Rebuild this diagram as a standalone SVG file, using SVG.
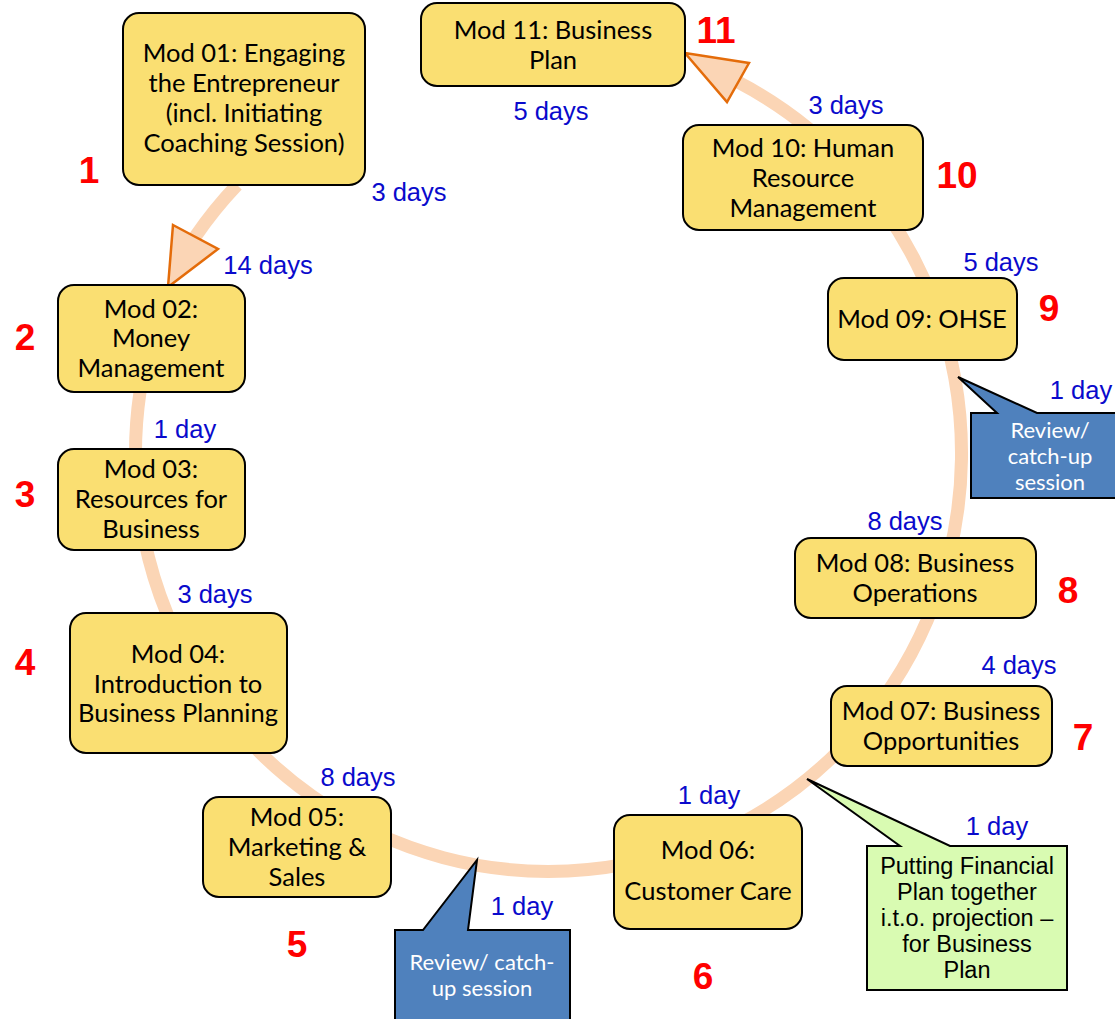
<svg xmlns="http://www.w3.org/2000/svg" width="1115" height="1019" viewBox="0 0 1115 1019">
<style>
.ring{fill:none;stroke:#FBD5B5;stroke-width:13}
.head{fill:#FBD5B5;stroke:#E46C0A;stroke-width:2.5;stroke-linejoin:miter}
.box{fill:#FADF72;stroke:#000;stroke-width:2}
.t{font-family:Lato,"Open Sans",sans-serif;font-size:25.5px;fill:#000;text-anchor:middle}
.num{font-family:"Liberation Sans",Arial,sans-serif;font-weight:bold;font-size:37px;fill:#FF0000;text-anchor:middle}
.d{font-family:"Liberation Sans",Arial,sans-serif;font-size:25.5px;fill:#0A0ACC;text-anchor:middle}
.blue{fill:#4F81BD;stroke:#000;stroke-width:2}
.green{fill:#D9FBB2;stroke:#000;stroke-width:2}
.wt{font-family:Lato,"Open Sans",sans-serif;font-size:22px;fill:#fff;text-anchor:middle}
.gt{font-family:"Liberation Sans",Arial,sans-serif;font-size:23.5px;fill:#000;text-anchor:middle}
</style>
<rect width="1115" height="1019" fill="#fff"/>
<g id="connectors">
<path class="ring" d="M237,185 A413,418 0 0 0 195,237"/>
<path class="ring" d="M140,392 A413,418 0 1 0 738,82"/>
<polygon class="head" points="173,225 218,249 168,287"/>
<polygon class="head" points="749,63 727,102 685,53"/>
</g>
<g id="callout-review-1">
<path class="blue" d="M395,930 L423,930 L477,860 L468,930 L570,930 L570,1025 L395,1025 Z"/>
<text class="wt"><tspan x="482" y="970">Review/ catch-</tspan><tspan x="482" y="996">up session</tspan></text>
</g>
<g id="callout-review-2">
<path class="blue" d="M971,413 L997,413 L958,377 L1037,413 L1120,413 L1120,498 L971,498 Z"/>
<text class="wt"><tspan x="1050" y="438">Review/</tspan><tspan x="1050" y="464">catch-up</tspan><tspan x="1050" y="490">session</tspan></text>
</g>
<g id="callout-financial">
<path class="green" d="M867,846 L900,846 L807,779 L950,846 L1067,846 L1067,990 L867,990 Z"/>
<text class="gt"><tspan x="967" y="874">Putting Financial</tspan><tspan x="967" y="900">Plan together</tspan><tspan x="967" y="926">i.t.o. projection –</tspan><tspan x="967" y="952">for Business</tspan><tspan x="967" y="978">Plan</tspan></text>
</g>
<g id="mod01"><rect class="box" x="123" y="13" width="242" height="172" rx="16"/>
<text class="t"><tspan x="244" y="62">Mod 01: Engaging</tspan><tspan x="244" y="92">the Entrepreneur</tspan><tspan x="244" y="122">(incl. Initiating</tspan><tspan x="244" y="152">Coaching Session)</tspan></text></g>
<g id="mod02"><rect class="box" x="58" y="285" width="187" height="107" rx="16"/>
<text class="t"><tspan x="151" y="318">Mod 02:</tspan><tspan x="151" y="347">Money</tspan><tspan x="151" y="377">Management</tspan></text></g>
<g id="mod03"><rect class="box" x="58" y="449" width="187" height="101" rx="16"/>
<text class="t"><tspan x="151" y="478">Mod 03:</tspan><tspan x="151" y="508">Resources for</tspan><tspan x="151" y="538">Business</tspan></text></g>
<g id="mod04"><rect class="box" x="70" y="613" width="217" height="140" rx="16"/>
<text class="t"><tspan x="178" y="663">Mod 04:</tspan><tspan x="178" y="693">Introduction to</tspan><tspan x="178" y="722">Business Planning</tspan></text></g>
<g id="mod05"><rect class="box" x="203" y="797" width="188" height="100" rx="16"/>
<text class="t"><tspan x="297" y="826">Mod 05:</tspan><tspan x="297" y="856">Marketing &amp;</tspan><tspan x="297" y="886">Sales</tspan></text></g>
<g id="mod06"><rect class="box" x="614" y="815" width="188" height="114" rx="16"/>
<text class="t"><tspan x="708" y="859">Mod 06:</tspan><tspan x="708" y="900">Customer Care</tspan></text></g>
<g id="mod07"><rect class="box" x="831" y="686" width="221" height="80" rx="16"/>
<text class="t"><tspan x="941" y="720">Mod 07: Business</tspan><tspan x="941" y="750">Opportunities</tspan></text></g>
<g id="mod08"><rect class="box" x="795" y="538" width="241" height="80" rx="16"/>
<text class="t"><tspan x="915" y="572">Mod 08: Business</tspan><tspan x="915" y="602">Operations</tspan></text></g>
<g id="mod09"><rect class="box" x="828" y="278" width="189" height="82" rx="16"/>
<text class="t"><tspan x="922" y="328">Mod 09: OHSE</tspan></text></g>
<g id="mod10"><rect class="box" x="683" y="125" width="240" height="105" rx="16"/>
<text class="t"><tspan x="803" y="157">Mod 10: Human</tspan><tspan x="803" y="187">Resource</tspan><tspan x="803" y="217">Management</tspan></text></g>
<g id="mod11"><rect class="box" x="421" y="3" width="264" height="83" rx="16"/>
<text class="t"><tspan x="553" y="39">Mod 11: Business</tspan><tspan x="553" y="69">Plan</tspan></text></g>
<g id="numbers">
<text class="num" x="89" y="183">1</text>
<text class="num" x="25" y="350">2</text>
<text class="num" x="25" y="507">3</text>
<text class="num" x="25" y="675">4</text>
<text class="num" x="297" y="957">5</text>
<text class="num" x="703" y="989">6</text>
<text class="num" x="1083" y="750">7</text>
<text class="num" x="1068" y="603">8</text>
<text class="num" x="1049" y="321">9</text>
<text class="num" x="957" y="188">10</text>
<text class="num" x="716" y="43">11</text>
</g>
<g id="durations">
<text class="d" x="409" y="201">3 days</text>
<text class="d" x="268" y="274">14 days</text>
<text class="d" x="185" y="438">1 day</text>
<text class="d" x="215" y="603">3 days</text>
<text class="d" x="358" y="786">8 days</text>
<text class="d" x="522" y="915">1 day</text>
<text class="d" x="709" y="804">1 day</text>
<text class="d" x="997" y="835">1 day</text>
<text class="d" x="1019" y="674">4 days</text>
<text class="d" x="905" y="530">8 days</text>
<text class="d" x="1081" y="399">1 day</text>
<text class="d" x="1001" y="271">5 days</text>
<text class="d" x="846" y="114">3 days</text>
<text class="d" x="551" y="120">5 days</text>
</g>
</svg>
